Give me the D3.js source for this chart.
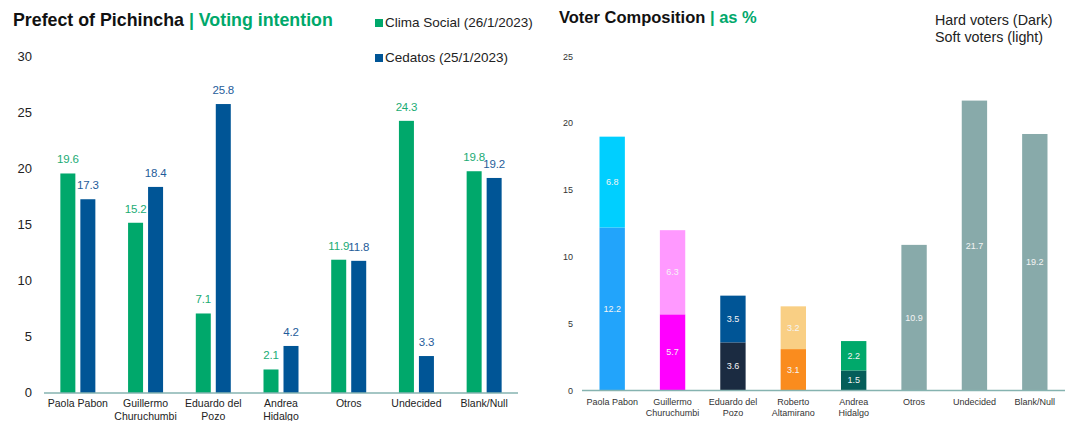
<!DOCTYPE html>
<html>
<head>
<meta charset="utf-8">
<script src="https://cdn.jsdelivr.net/npm/d3@7"></script>
<style>
  html, body { margin: 0; padding: 0; background: #fff; }
  svg { display: block; font-family: "Liberation Sans", Arial, sans-serif; }
</style>
</head>
<body>
<svg id="chart" width="1074" height="421"></svg>
<script>
// ---- Voting intention (left panel) ----
const candidates = ["Paola Pabon", "Guillermo Churuchumbi", "Eduardo del Pozo", "Andrea Hidalgo", "Otros", "Undecided", "Blank/Null"];
const candidateLines = [["Paola Pabon"], ["Guillermo", "Churuchumbi"], ["Eduardo del", "Pozo"], ["Andrea", "Hidalgo"], ["Otros"], ["Undecided"], ["Blank/Null"]];
const climaSocial = [19.6, 15.2, 7.1, 2.1, 11.9, 24.3, 19.8];
const cedatos = [17.3, 18.4, 25.8, 4.2, 11.8, 3.3, 19.2];
const seriesNames = ["Clima Social (26/1/2023)", "Cedatos (25/1/2023)"];
const leftTicks = [0, 5, 10, 15, 20, 25, 30];

// ---- Voter composition (right panel) ----
const groups = ["Paola Pabon", "Guillermo Churuchumbi", "Eduardo del Pozo", "Roberto Altamirano", "Andrea Hidalgo", "Otros", "Undecided", "Blank/Null"];
const groupLines = [["Paola Pabon"], ["Guillermo", "Churuchumbi"], ["Eduardo del", "Pozo"], ["Roberto", "Altamirano"], ["Andrea", "Hidalgo"], ["Otros"], ["Undecided"], ["Blank/Null"]];
const hardVoters = [12.2, 5.7, 3.6, 3.1, 1.5, 10.9, 21.7, 19.2];
const softVoters = [6.8, 6.3, 3.5, 3.2, 2.2, 0, 0, 0];
const rightTicks = [0, 5, 10, 15, 20, 25];

const GREEN = "#00a86b";
const BLUE = "#005596";
const AXIS = "#86b3b0";
const hardColors = ["#22a4fb", "#ff00ff", "#1b2b41", "#fa8c1e", "#055e5a", "#88aaaa", "#88aaaa", "#88aaaa"];
const softColors = ["#00cfff", "#ff99ff", "#005596", "#f9cf84", "#00a96b", "#88aaaa", "#88aaaa", "#88aaaa"];

const svg = d3.select("#chart");

// ===== Left panel =====
{
  const g = svg.append("g");
  const x = d3.scaleBand().domain(candidates).range([44, 518]).paddingInner(0).paddingOuter(0);
  const y = d3.scaleLinear().domain([0, 30]).range([393, 57]);
  const barW = 15, gap = 5;

  // title
  const t = g.append("text").attr("x", 13).attr("y", 26)
    .attr("font-size", 17.8).attr("font-weight", "bold");
  t.append("tspan").attr("fill", "#111").text("Prefect of Pichincha ");
  t.append("tspan").attr("fill", GREEN).text("| Voting intention");

  // y tick labels
  g.selectAll(".yt").data(leftTicks).join("text")
    .attr("x", 32).attr("y", d => y(d) + 4)
    .attr("text-anchor", "end").attr("font-size", 13).attr("fill", "#222")
    .text(d => d);

  const series = [
    { name: seriesNames[0], values: climaSocial, color: GREEN, label: "#1aab74", off: -(barW + gap) / 2 },
    { name: seriesNames[1], values: cedatos, color: BLUE, label: "#1f5d9a", off: (barW + gap) / 2 }
  ];

  series.forEach(s => {
    g.selectAll(null).data(candidates).join("rect")
      .attr("x", (d, i) => x(d) + x.bandwidth() / 2 + s.off - barW / 2)
      .attr("y", (d, i) => y(s.values[i]))
      .attr("width", barW)
      .attr("height", (d, i) => y(0) - y(s.values[i]))
      .attr("fill", s.color);
    g.selectAll(null).data(candidates).join("text")
      .attr("x", (d, i) => x(d) + x.bandwidth() / 2 + s.off)
      .attr("y", (d, i) => y(s.values[i]) - 10)
      .attr("text-anchor", "middle").attr("font-size", 11.5)
      .attr("letter-spacing", -0.2).attr("fill", s.label)
      .text((d, i) => s.values[i].toFixed(1));
  });

  // baseline
  g.append("line").attr("x1", 44).attr("x2", 518).attr("y1", y(0)).attr("y2", y(0))
    .attr("stroke", AXIS).attr("stroke-width", 1.3);

  // category labels
  candidates.forEach((c, i) => {
    const cx = x(c) + x.bandwidth() / 2;
    const tx = g.append("text").attr("x", cx).attr("y", 407)
      .attr("text-anchor", "middle").attr("font-size", 10.5).attr("fill", "#222");
    candidateLines[i].forEach((line, j) => {
      tx.append("tspan").attr("x", cx).attr("dy", j === 0 ? 0 : 12.5).text(line);
    });
  });

  // legend
  series.forEach((s, i) => {
    const ly = i === 0 ? 27 : 62;
    g.append("rect").attr("x", 375).attr("y", ly - 8).attr("width", 8).attr("height", 8).attr("fill", s.color);
    g.append("text").attr("x", 385).attr("y", ly).attr("font-size", 13.5).attr("fill", "#222").text(s.name);
  });
}

// ===== Right panel =====
{
  const g = svg.append("g");
  const x = d3.scaleBand().domain(groups).range([582, 1065]).paddingInner(0.58).paddingOuter(0.29);
  const y = d3.scaleLinear().domain([0, 25]).range([390.5, 56.5]);

  const t = g.append("text").attr("x", 559).attr("y", 23)
    .attr("font-size", 16.5).attr("font-weight", "bold");
  t.append("tspan").attr("fill", "#111").text("Voter Composition ");
  t.append("tspan").attr("fill", GREEN).text("| as %");

  g.append("text").attr("x", 935).attr("y", 25).attr("font-size", 14.3).attr("fill", "#222").text("Hard voters (Dark)");
  g.append("text").attr("x", 935).attr("y", 42).attr("font-size", 14.3).attr("fill", "#222").text("Soft voters (light)");

  g.selectAll(".yt").data(rightTicks).join("text")
    .attr("x", 573).attr("y", d => y(d) + 3)
    .attr("text-anchor", "end").attr("font-size", 9).attr("fill", "#333")
    .text(d => d);

  // hard segments
  g.selectAll(".hard").data(groups).join("rect")
    .attr("x", d => x(d)).attr("width", x.bandwidth())
    .attr("y", (d, i) => y(hardVoters[i]))
    .attr("height", (d, i) => y(0) - y(hardVoters[i]))
    .attr("fill", (d, i) => hardColors[i]);
  // soft segments stacked on top
  g.selectAll(".soft").data(groups).join("rect")
    .attr("x", d => x(d)).attr("width", x.bandwidth())
    .attr("y", (d, i) => y(hardVoters[i] + softVoters[i]))
    .attr("height", (d, i) => y(hardVoters[i]) - y(hardVoters[i] + softVoters[i]))
    .attr("fill", (d, i) => softColors[i]);

  const segLabel = (vals, base) => g.selectAll(null).data(groups).join("text")
    .filter((d, i) => vals[i] > 0)
    .attr("x", d => x(d) + x.bandwidth() / 2)
    .attr("y", d => { const i = groups.indexOf(d); return y(base[i] + vals[i] / 2) + 3; })
    .attr("text-anchor", "middle").attr("font-size", 9).attr("fill", "#f4f4f4")
    .text(d => vals[groups.indexOf(d)].toFixed(1));
  segLabel(hardVoters, groups.map(() => 0));
  segLabel(softVoters, hardVoters);

  g.append("line").attr("x1", 582).attr("x2", 1065).attr("y1", y(0)).attr("y2", y(0))
    .attr("stroke", AXIS).attr("stroke-width", 1.3);

  groups.forEach((c, i) => {
    const cx = x(c) + x.bandwidth() / 2;
    const tx = g.append("text").attr("x", cx).attr("y", 405)
      .attr("text-anchor", "middle").attr("font-size", 9).attr("fill", "#333");
    groupLines[i].forEach((line, j) => {
      tx.append("tspan").attr("x", cx).attr("dy", j === 0 ? 0 : 11).text(line);
    });
  });
}
</script>
</body>
</html>
